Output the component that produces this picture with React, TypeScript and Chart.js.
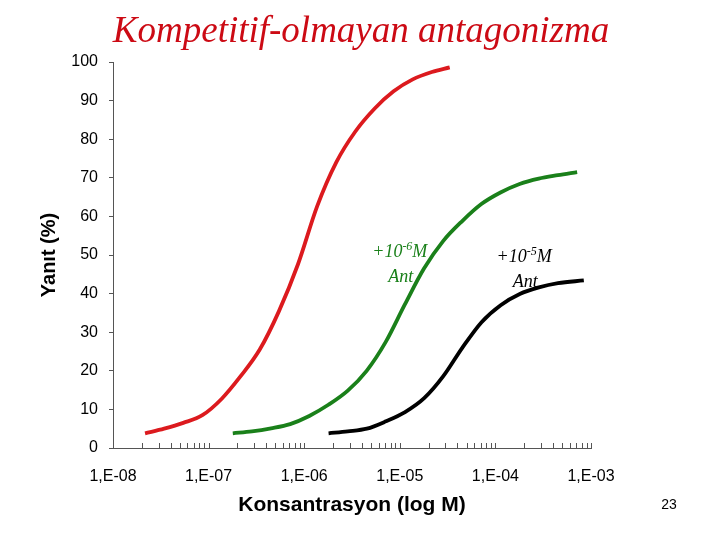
import { useEffect, useRef } from "react";
import { Chart, registerables } from "chart.js";

Chart.register(...registerables);

// concentrations (M) and responses (%), about every 0.2 decade
const controlX = [2.163e-8, 3.428e-8, 5.433e-8, 8.61e-8, 1.365e-7, 2.163e-7, 3.428e-7, 5.433e-7, 8.61e-7, 1.365e-6, 2.163e-6, 3.428e-6, 5.433e-6, 8.61e-6, 1.365e-5, 2.163e-5, 3.327e-5];
const controlY = [3.8, 5.0, 6.5, 8.5, 12.7, 18.6, 25.5, 35.4, 47.6, 62.6, 74.0, 82.0, 87.9, 92.4, 95.5, 97.4, 98.6];

const ant6X = [1.791e-7, 2.838e-7, 4.498e-7, 7.129e-7, 1.13e-6, 1.791e-6, 2.838e-6, 4.498e-6, 7.129e-6, 1.13e-5, 1.791e-5, 2.838e-5, 4.498e-5, 7.129e-5, 1.13e-4, 1.791e-4, 2.838e-4, 4.498e-4, 7.16e-4];
const ant6Y = [3.8, 4.3, 5.1, 6.2, 8.3, 11.2, 14.8, 20.0, 27.5, 37.2, 46.5, 53.6, 58.8, 63.2, 66.2, 68.4, 69.8, 70.7, 71.5];

const ant5X = [1.799e-6, 2.851e-6, 4.519e-6, 7.161e-6, 1.135e-5, 1.799e-5, 2.851e-5, 4.519e-5, 7.161e-5, 1.135e-4, 1.799e-4, 2.851e-4, 4.519e-4, 8.41e-4];
const ant5Y = [3.8, 4.3, 5.0, 6.9, 9.3, 12.9, 18.6, 26.0, 32.6, 37.0, 39.9, 41.6, 42.7, 43.4];

const decadeTicks = [1e-8, 1e-7, 1e-6, 1e-5, 1e-4, 1e-3];
const decadeLabels = ["1,E-08", "1,E-07", "1,E-06", "1,E-05", "1,E-04", "1,E-03"];

const titleText = "Kompetitif-olmayan antagonizma";
const pageNumber = "23";

const RED = "#dc1a1e";
const GREEN = "#1a801a";
const AXIS = "#555555";

const toPoints = (xs: number[], ys: number[]) => xs.map((x, i) => ({ x, y: ys[i] }));

// labels on the curves, anchored in data units
const curveLabels = [
  { x: 1e-5, y: 49.4, exp: "-6", color: GREEN },
  { x: 2e-4, y: 48.1, exp: "-5", color: "#000000" },
];

const extras = {
  id: "extras",
  afterDraw(chart: any) {
    const { ctx, scales, chartArea } = chart;
    const xs = scales.x;
    const ys = scales.y;
    ctx.save();

    // minor ticks on the log axis, pointing up
    ctx.strokeStyle = AXIS;
    ctx.lineWidth = 1;
    ctx.beginPath();
    for (let d = -8; d <= -4; d++) {
      for (let k = 2; k <= 10; k++) {
        const px = Math.round(xs.getPixelForValue(k * Math.pow(10, d))) + 0.5;
        ctx.moveTo(px, chartArea.bottom);
        ctx.lineTo(px, chartArea.bottom - 5);
      }
    }
    ctx.stroke();

    // title
    ctx.fillStyle = "#cc0a14";
    ctx.font = 'italic 37px "Liberation Serif", serif';
    ctx.textAlign = "center";
    ctx.textBaseline = "alphabetic";
    ctx.fillText(titleText, 361, 42);

    // curve labels
    for (const lab of curveLabels) {
      const cx = xs.getPixelForValue(lab.x);
      const by = ys.getPixelForValue(lab.y);
      ctx.fillStyle = lab.color;
      const big = 'italic 18px "Liberation Serif", serif';
      const small = 'italic 12px "Liberation Serif", serif';
      ctx.font = big;
      const w1 = ctx.measureText("+10").width;
      const w3 = ctx.measureText("M").width;
      ctx.font = small;
      const w2 = ctx.measureText(lab.exp).width;
      let x0 = cx - (w1 + w2 + w3) / 2;
      ctx.textAlign = "left";
      ctx.font = big;
      ctx.fillText("+10", x0, by);
      x0 += w1;
      ctx.font = small;
      ctx.fillText(lab.exp, x0, by - 7);
      x0 += w2;
      ctx.font = big;
      ctx.fillText("M", x0, by);
      ctx.textAlign = "center";
      ctx.fillText("Ant", cx + 1, by + 25);
    }

    // page number
    ctx.fillStyle = "#000000";
    ctx.font = '14px "Liberation Sans", Arial, sans-serif';
    ctx.textAlign = "center";
    ctx.fillText(pageNumber, 669, 509);
    ctx.restore();
  },
};

export default function App() {
  const canvasRef = useRef<HTMLCanvasElement>(null);

  useEffect(() => {
    const chart = new Chart(canvasRef.current!.getContext("2d")!, {
      type: "line",
      data: {
        datasets: [
          { data: toPoints(controlX, controlY), borderColor: RED },
          { data: toPoints(ant6X, ant6Y), borderColor: GREEN },
          { data: toPoints(ant5X, ant5Y), borderColor: "#000000" },
        ].map((d) => ({
          ...d,
          borderWidth: 3.8,
          pointRadius: 0,
          fill: false,
          cubicInterpolationMode: "monotone" as const,
        })),
      },
      options: {
        responsive: false,
        animation: false,
        layout: { padding: { top: 62, right: 129, bottom: 0, left: 0 } },
        plugins: { legend: { display: false }, tooltip: { enabled: false } },
        scales: {
          x: {
            type: "logarithmic",
            min: 1e-8,
            max: 1e-3,
            afterBuildTicks: (scale: any) => {
              scale.ticks = decadeTicks.map((value) => ({ value }));
            },
            afterFit: (scale: any) => {
              scale.height = 92;
            },
            ticks: {
              autoSkip: false,
              maxRotation: 0,
              padding: 19,
              color: "#000",
              font: { family: '"Liberation Sans", Arial, sans-serif', size: 16 },
              callback: (_v: any, i: number) => decadeLabels[i],
            },
            grid: { display: false, drawTicks: false },
            border: { display: true, color: AXIS, width: 1 },
            title: {
              display: true,
              text: "Konsantrasyon (log M)",
              color: "#000",
              font: { family: '"Liberation Sans", Arial, sans-serif', size: 21, weight: "bold" },
              padding: { top: 0, bottom: 22 },
            },
          },
          y: {
            min: 0,
            max: 100,
            afterFit: (scale: any) => {
              scale.width = 113;
            },
            ticks: {
              stepSize: 10,
              padding: 11,
              color: "#000",
              font: { family: '"Liberation Sans", Arial, sans-serif', size: 16 },
            },
            grid: { drawOnChartArea: false, drawTicks: true, tickLength: 4, color: AXIS },
            border: { display: true, color: AXIS, width: 1 },
            title: {
              display: true,
              text: "Yanıt (%)",
              color: "#000",
              font: { family: '"Liberation Sans", Arial, sans-serif', size: 20, weight: "bold" },
              padding: { top: 37, bottom: 0 },
            },
          },
        },
      },
      plugins: [extras],
    });
    return () => chart.destroy();
  }, []);

  return (
    <div style={{ position: "absolute", left: 0, top: 0, width: 720, height: 540, background: "#fff" }}>
      <canvas ref={canvasRef} width={720} height={540} />
    </div>
  );
}
